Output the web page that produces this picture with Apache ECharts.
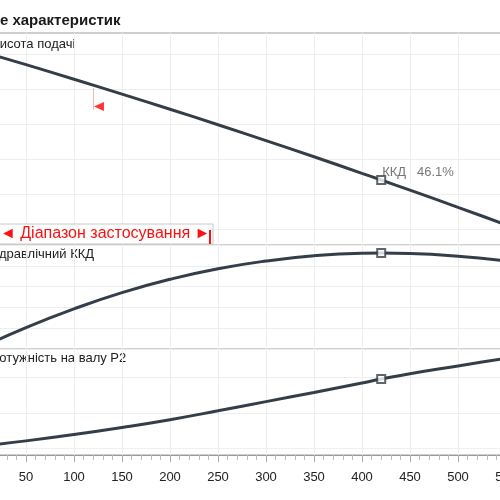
<!DOCTYPE html>
<html>
<head>
<meta charset="utf-8">
<script src="https://cdn.jsdelivr.net/npm/echarts@6/dist/echarts.min.js"></script>
<style>
  html, body { margin: 0; padding: 0; background: #fff; }
  #chart { width: 500px; height: 500px; }
</style>
</head>
<body>
<div id="chart"></div>
<script>
// витрата (вісь X) і три криві
var flow  = [0, 50, 100, 150, 200, 250, 300, 350, 400, 420, 450, 500, 550, 600];
var head  = [14.20, 13.39, 12.56, 11.71, 10.84, 9.96, 9.05, 8.13, 7.18, 6.80, 6.22, 5.24, 4.24, 3.22];
var eff   = [0, 10.3, 19.3, 27.1, 33.5, 38.6, 42.3, 44.8, 46.0, 46.1, 45.9, 44.6, 42.3, 39.0];
var power = [1.05, 1.21, 1.39, 1.59, 1.81, 2.06, 2.32, 2.58, 2.85, 2.96, 3.11, 3.33, 3.55, 3.77];

// робоча точка
var dutyFlow = 420;
var dutyHead = 6.80;
var dutyEff = 46.1;
var dutyPower = 2.96;

// мінімальна витрата (червоний маркер)
var minFlow = 120;
var minMarkHead = [10.8, 12.06];
var minArrow = [126, 11.0];

// лінії сітки по Y
var headTicks = [4, 6, 8, 10, 12, 14];
var powerTicks = [1, 2, 3];

var curveColor = '#343e48';
var gridLineColor = '#eeeeee';

function pairs(xs, ys) {
    return xs.map(function (x, i) { return [x, ys[i]]; });
}
function hLines(vals) {
    return vals.map(function (v) { return { yAxis: v }; });
}

var myChart = echarts.init(document.getElementById('chart'));

function xAxisFor(idx, showLabels) {
    return {
        type: 'value', gridIndex: idx, min: 0, max: 600, interval: 50,
        axisLine: { show: showLabels, lineStyle: { color: '#999', width: 1 } },
        axisTick: { show: showLabels, length: 7, lineStyle: { color: '#aaa' } },
        minorTick: { show: showLabels, splitNumber: 5, length: 5, lineStyle: { color: '#bbb' } },
        axisLabel: { show: showLabels, color: '#222', fontSize: 13, margin: 16, fontFamily: 'Liberation Sans' },
        splitLine: { show: true, lineStyle: { color: gridLineColor, width: 1 } }
    };
}

var gridBase = {
    left: -22, right: -54, show: true, borderColor: '#cfcfcf', borderWidth: 2,
    backgroundColor: 'transparent', containLabel: false, outerBoundsMode: 'none'
};

var option = {
    animation: false,
    textStyle: { fontFamily: 'Liberation Sans' },
    grid: [
        Object.assign({ top: 33, height: 212 }, gridBase),
        Object.assign({ top: 245, height: 104 }, gridBase),
        Object.assign({ top: 349, height: 106 }, gridBase)
    ],
    xAxis: [xAxisFor(0, false), xAxisFor(1, false), xAxisFor(2, true)],
    yAxis: [
        { type: 'value', gridIndex: 0, min: 3.086, max: 15.2, axisLine: { show: false }, axisTick: { show: false }, axisLabel: { show: false }, splitLine: { show: false } },
        { type: 'value', gridIndex: 1, min: 0, max: 50, interval: 10, axisLine: { show: false }, axisTick: { show: false }, axisLabel: { show: false }, splitLine: { show: true, lineStyle: { color: gridLineColor } } },
        { type: 'value', gridIndex: 2, min: 0.81, max: 3.81, axisLine: { show: false }, axisTick: { show: false }, axisLabel: { show: false }, splitLine: { show: false } }
    ],
    series: [
        // сітка по Y (верхня і нижня панелі)
        {
            type: 'line', xAxisIndex: 0, yAxisIndex: 0, data: [], z: 1, silent: true,
            markLine: { z: 1, silent: true, symbol: 'none', label: { show: false }, lineStyle: { color: gridLineColor, width: 1, type: 'solid' }, data: hLines(headTicks) }
        },
        {
            type: 'line', xAxisIndex: 2, yAxisIndex: 2, data: [], z: 1, silent: true,
            markLine: { z: 1, silent: true, symbol: 'none', label: { show: false }, lineStyle: { color: gridLineColor, width: 1, type: 'solid' }, data: hLines(powerTicks) }
        },
        // Висота подачі
        {
            name: 'Висота подачі', type: 'line', xAxisIndex: 0, yAxisIndex: 0, z: 3,
            smooth: true, showSymbol: false, data: pairs(flow, head),
            lineStyle: { color: curveColor, width: 3 }
        },
        // Гідравлічний ККД
        {
            name: 'Гідравлічний ККД', type: 'line', xAxisIndex: 1, yAxisIndex: 1, z: 3,
            smooth: true, showSymbol: false, data: pairs(flow, eff),
            lineStyle: { color: curveColor, width: 3 }
        },
        // Потужність на валу P2
        {
            name: 'Потужність на валу P2', type: 'line', xAxisIndex: 2, yAxisIndex: 2, z: 3,
            smooth: true, showSymbol: false, data: pairs(flow, power),
            lineStyle: { color: curveColor, width: 3 }
        },
        // робоча точка
        {
            type: 'scatter', xAxisIndex: 0, yAxisIndex: 0, z: 5, symbol: 'rect', symbolSize: 8,
            itemStyle: { color: '#fff', borderColor: curveColor, borderWidth: 2 },
            data: [{
                value: [dutyFlow, dutyHead],
                label: { show: true, position: [6, -9], formatter: 'ККД   ' + dutyEff + '%', color: '#555', fontSize: 13 }
            }]
        },
        {
            type: 'scatter', xAxisIndex: 1, yAxisIndex: 1, z: 5, symbol: 'rect', symbolSize: 8,
            itemStyle: { color: '#fff', borderColor: curveColor, borderWidth: 2 },
            data: [[dutyFlow, dutyEff]]
        },
        {
            type: 'scatter', xAxisIndex: 2, yAxisIndex: 2, z: 5, symbol: 'rect', symbolSize: 8,
            itemStyle: { color: '#fff', borderColor: curveColor, borderWidth: 2 },
            data: [[dutyFlow, dutyPower]]
        },
        // мінімальна витрата
        {
            type: 'scatter', xAxisIndex: 0, yAxisIndex: 0, z: 4, symbol: 'triangle', symbolRotate: 90, symbolSize: [9, 10],
            itemStyle: { color: '#ff0000' },
            data: [minArrow],
            markLine: {
                z: 2, silent: true, symbol: 'none', label: { show: false },
                lineStyle: { color: 'rgba(255,0,0,0.3)', width: 1, type: 'solid' },
                data: [[{ coord: [minFlow, minMarkHead[0]] }, { coord: [minFlow, minMarkHead[1]] }]]
            }
        }
    ],
    graphic: [
        { type: 'text', left: -29, top: 13, style: { text: 'Поле характеристик', fontSize: 15, fontWeight: 'bold', fill: '#1a1a1a', fontFamily: 'Liberation Sans' } },
        { type: 'text', left: -9, top: 38, style: { text: 'Висота подачі', fontSize: 13, fill: '#222', fontFamily: 'Liberation Sans' } },
        { type: 'text', left: -11, top: 248, style: { text: 'Гідравлічний ККД', fontSize: 13, fill: '#222', fontFamily: 'Liberation Sans' } },
        { type: 'text', left: -10, top: 352, style: { text: 'Потужність на валу P2', fontSize: 13, fill: '#222', fontFamily: 'Liberation Sans' } },
        // діапазон застосування
        { type: 'rect', shape: { x: -5, y: 224, width: 218, height: 20 }, style: { fill: '#fff', stroke: '#c8c8c8', lineWidth: 1 }, z: 10 },
        { type: 'text', x: 0, y: 226, z: 11, style: { text: '◄ Діапазон застосування ►', fontSize: 16, fill: '#ff1010', fontFamily: 'Liberation Sans' } },
        { type: 'rect', shape: { x: 209, y: 230, width: 2, height: 14 }, style: { fill: '#ff1010' }, z: 11 }
    ]
};

myChart.setOption(option);
</script>
</body>
</html>
